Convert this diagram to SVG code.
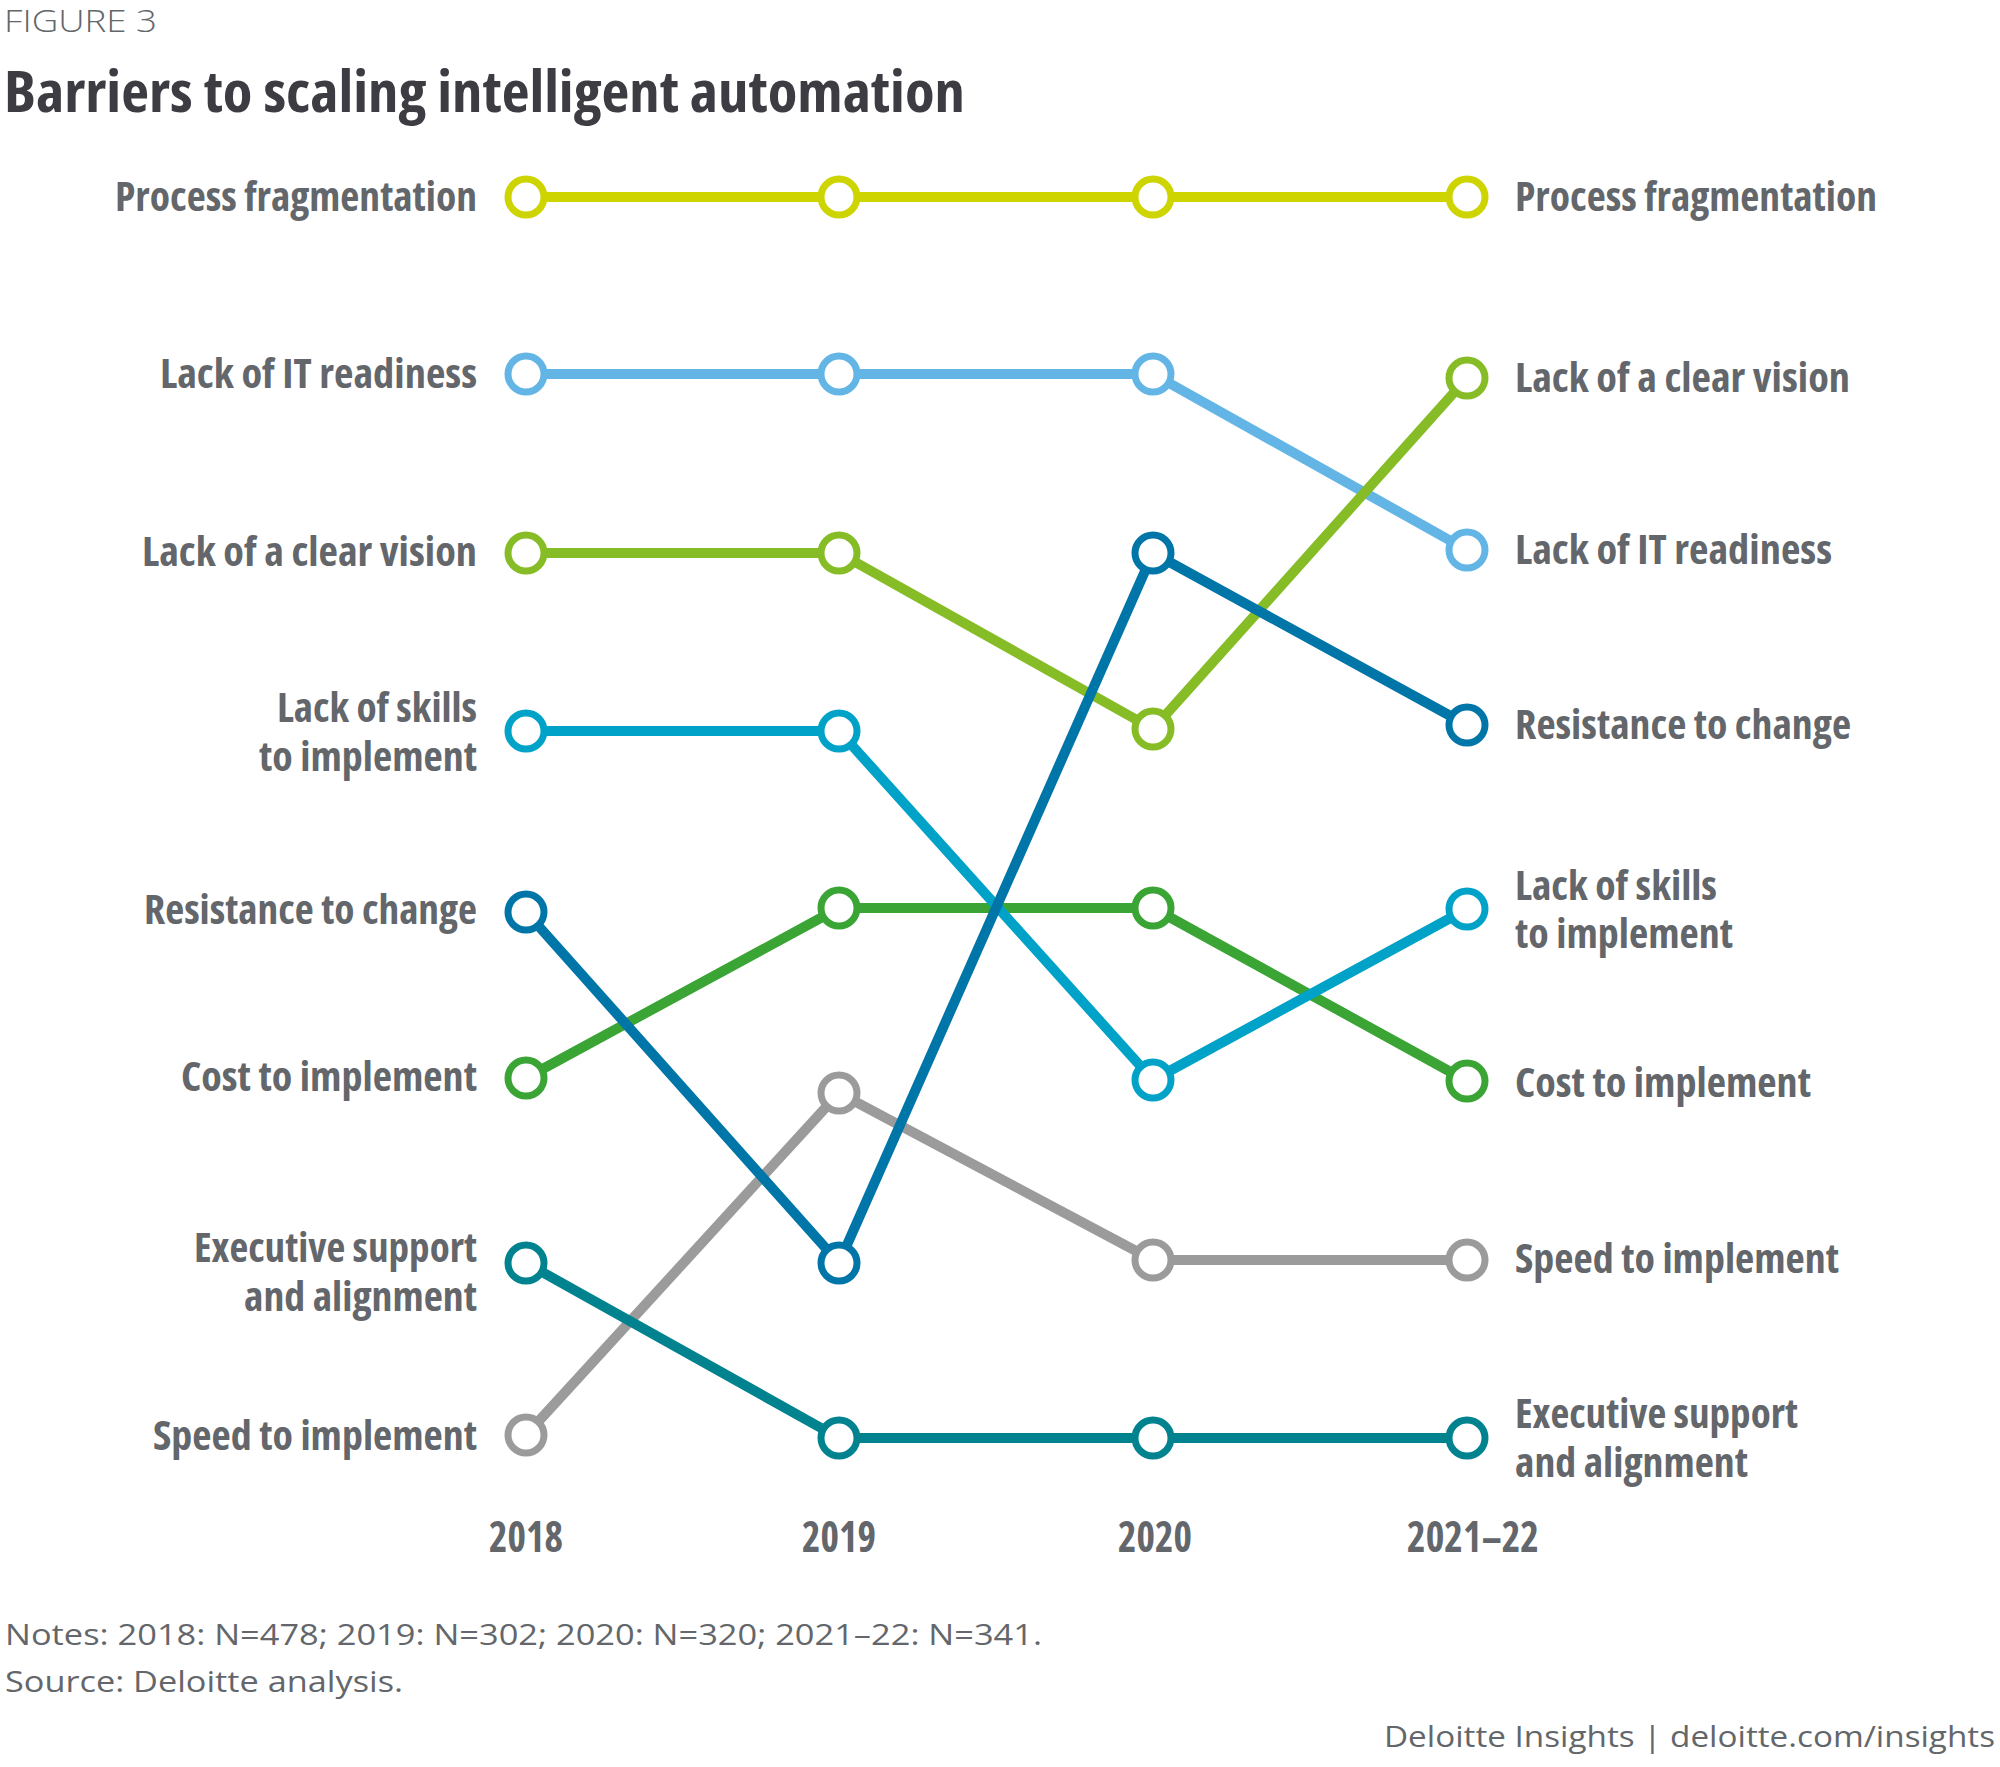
<svg xmlns="http://www.w3.org/2000/svg" width="2000" height="1767" viewBox="0 0 2000 1767">
<style>
.lbl{font-family:"Open Sans","Liberation Sans",sans-serif;font-weight:700;font-stretch:condensed;font-size:41px;fill:#63666A}
.l{text-anchor:end}
.yr{font-family:"Open Sans","Liberation Sans",sans-serif;font-weight:700;font-stretch:condensed;font-size:42px;fill:#63666A;text-anchor:middle}
.ln{fill:none;stroke-width:10;stroke-linejoin:round}
.nd{fill:#fff;stroke-width:7}
.note{font-family:"Open Sans","Liberation Sans",sans-serif;font-size:30px;fill:#63666A}
</style>
<rect width="2000" height="1767" fill="#fff"/>
<text x="4" y="32" font-family="Open Sans, Liberation Sans, sans-serif" font-weight="300" font-size="31" fill="#63666A" textLength="153" lengthAdjust="spacingAndGlyphs">FIGURE 3</text>
<text x="4" y="112" font-family="Open Sans, Liberation Sans, sans-serif" font-weight="700" font-stretch="condensed" font-size="57" fill="#3C3C42" textLength="961" lengthAdjust="spacingAndGlyphs">Barriers to scaling intelligent automation</text>

<g id="connectors">
<polyline class="ln" stroke="#9B9B9B" points="526,1435 839,1093 1153,1260 1467,1260"/>
<polyline class="ln" stroke="#3AA535" points="526,1078 839,908 1153,908 1467,1081"/>
<polyline class="ln" stroke="#62B5E5" points="526,374 839,374 1153,374 1467,550"/>
<polyline class="ln" stroke="#86BC25" points="526,553 839,553 1153,729 1467,378"/>
<polyline class="ln" stroke="#00A3C7" points="526,731 839,731 1153,1080 1467,909"/>
<polyline class="ln" stroke="#0076A8" points="526,912 839,1263 1153,553 1467,725"/>
<polyline class="ln" stroke="#00838F" points="526,1263 839,1438 1153,1438 1467,1438"/>
<polyline class="ln" stroke="#CDD400" points="526,197 839,197 1153,197 1467,197"/>
</g>

<g id="node-speed" stroke="#9B9B9B">
<circle class="nd" cx="526" cy="1435" r="18"/><circle class="nd" cx="839" cy="1093" r="18"/><circle class="nd" cx="1153" cy="1260" r="18"/><circle class="nd" cx="1467" cy="1260" r="18"/>
</g>
<g id="node-cost" stroke="#3AA535">
<circle class="nd" cx="526" cy="1078" r="18"/><circle class="nd" cx="839" cy="908" r="18"/><circle class="nd" cx="1153" cy="908" r="18"/><circle class="nd" cx="1467" cy="1081" r="18"/>
</g>
<g id="node-it" stroke="#62B5E5">
<circle class="nd" cx="526" cy="374" r="18"/><circle class="nd" cx="839" cy="374" r="18"/><circle class="nd" cx="1153" cy="374" r="18"/><circle class="nd" cx="1467" cy="550" r="18"/>
</g>
<g id="node-vision" stroke="#86BC25">
<circle class="nd" cx="526" cy="553" r="18"/><circle class="nd" cx="839" cy="553" r="18"/><circle class="nd" cx="1153" cy="729" r="18"/><circle class="nd" cx="1467" cy="378" r="18"/>
</g>
<g id="node-skills" stroke="#00A3C7">
<circle class="nd" cx="526" cy="731" r="18"/><circle class="nd" cx="839" cy="731" r="18"/><circle class="nd" cx="1153" cy="1080" r="18"/><circle class="nd" cx="1467" cy="909" r="18"/>
</g>
<g id="node-resistance" stroke="#0076A8">
<circle class="nd" cx="526" cy="912" r="18"/><circle class="nd" cx="839" cy="1263" r="18"/><circle class="nd" cx="1153" cy="553" r="18"/><circle class="nd" cx="1467" cy="725" r="18"/>
</g>
<g id="node-exec" stroke="#00838F">
<circle class="nd" cx="526" cy="1263" r="18"/><circle class="nd" cx="839" cy="1438" r="18"/><circle class="nd" cx="1153" cy="1438" r="18"/><circle class="nd" cx="1467" cy="1438" r="18"/>
</g>
<g id="node-process" stroke="#CDD400">
<circle class="nd" cx="526" cy="197" r="18"/><circle class="nd" cx="839" cy="197" r="18"/><circle class="nd" cx="1153" cy="197" r="18"/><circle class="nd" cx="1467" cy="197" r="18"/>
</g>

<g id="labels-left">
<text class="lbl l" x="477" y="211" textLength="362" lengthAdjust="spacingAndGlyphs">Process fragmentation</text>
<text class="lbl l" x="477" y="388" textLength="317" lengthAdjust="spacingAndGlyphs">Lack of IT readiness</text>
<text class="lbl l" x="477" y="566" textLength="335" lengthAdjust="spacingAndGlyphs">Lack of a clear vision</text>
<text class="lbl l" x="477" y="722" textLength="200" lengthAdjust="spacingAndGlyphs">Lack of skills</text>
<text class="lbl l" x="477" y="771" textLength="218" lengthAdjust="spacingAndGlyphs">to implement</text>
<text class="lbl l" x="477" y="924" textLength="333" lengthAdjust="spacingAndGlyphs">Resistance to change</text>
<text class="lbl l" x="477" y="1091" textLength="296" lengthAdjust="spacingAndGlyphs">Cost to implement</text>
<text class="lbl l" x="477" y="1262" textLength="283" lengthAdjust="spacingAndGlyphs">Executive support</text>
<text class="lbl l" x="477" y="1311" textLength="233" lengthAdjust="spacingAndGlyphs">and alignment</text>
<text class="lbl l" x="477" y="1450" textLength="324" lengthAdjust="spacingAndGlyphs">Speed to implement</text>
</g>

<g id="labels-right">
<text class="lbl" x="1515" y="211" textLength="362" lengthAdjust="spacingAndGlyphs">Process fragmentation</text>
<text class="lbl" x="1515" y="392" textLength="335" lengthAdjust="spacingAndGlyphs">Lack of a clear vision</text>
<text class="lbl" x="1515" y="564" textLength="317" lengthAdjust="spacingAndGlyphs">Lack of IT readiness</text>
<text class="lbl" x="1515" y="739" textLength="336" lengthAdjust="spacingAndGlyphs">Resistance to change</text>
<text class="lbl" x="1515" y="900" textLength="202" lengthAdjust="spacingAndGlyphs">Lack of skills</text>
<text class="lbl" x="1515" y="948" textLength="218" lengthAdjust="spacingAndGlyphs">to implement</text>
<text class="lbl" x="1515" y="1097" textLength="296" lengthAdjust="spacingAndGlyphs">Cost to implement</text>
<text class="lbl" x="1515" y="1273" textLength="324" lengthAdjust="spacingAndGlyphs">Speed to implement</text>
<text class="lbl" x="1515" y="1428" textLength="283" lengthAdjust="spacingAndGlyphs">Executive support</text>
<text class="lbl" x="1515" y="1477" textLength="233" lengthAdjust="spacingAndGlyphs">and alignment</text>
</g>

<g id="axis-years">
<text class="yr" x="526" y="1552" textLength="74" lengthAdjust="spacingAndGlyphs">2018</text>
<text class="yr" x="839" y="1552" textLength="74" lengthAdjust="spacingAndGlyphs">2019</text>
<text class="yr" x="1155" y="1552" textLength="74" lengthAdjust="spacingAndGlyphs">2020</text>
<text class="yr" x="1473" y="1552" textLength="132" lengthAdjust="spacingAndGlyphs">2021–22</text>
</g>

<g id="footer">
<text class="note" x="5" y="1645" textLength="1037" lengthAdjust="spacingAndGlyphs">Notes: 2018: N=478; 2019: N=302; 2020: N=320; 2021–22: N=341.</text>
<text class="note" x="5" y="1692" textLength="398" lengthAdjust="spacingAndGlyphs">Source: Deloitte analysis.</text>
<text class="note" x="1995" y="1747" text-anchor="end" textLength="611" lengthAdjust="spacingAndGlyphs">Deloitte Insights | deloitte.com/insights</text>
</g>
</svg>
